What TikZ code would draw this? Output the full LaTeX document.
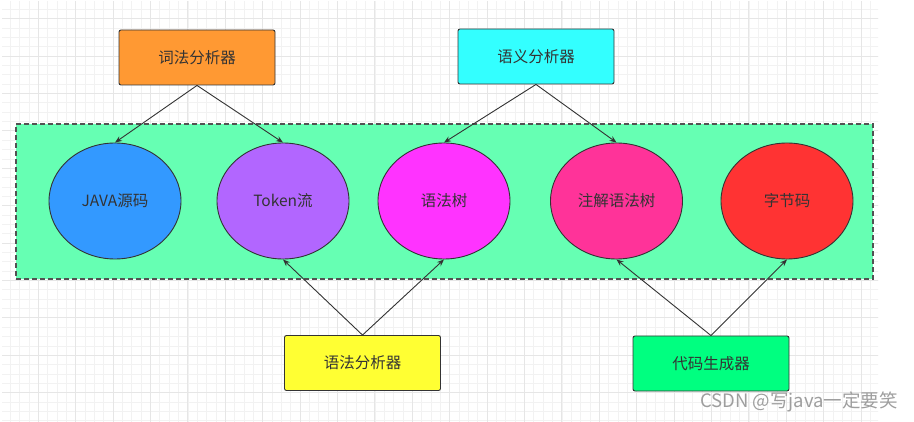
\documentclass[tikz,border=0pt]{standalone}
\usepackage{fontspec}
\setmainfont{Noto Sans CJK SC}
\usetikzlibrary{arrows.meta,shapes.geometric}
\definecolor{cOrange}{HTML}{FF9933}
\definecolor{cCyan}{HTML}{33FFFF}
\definecolor{cBg}{HTML}{66FFB3}
\definecolor{cBlue}{HTML}{3399FF}
\definecolor{cPurple}{HTML}{B266FF}
\definecolor{cMagenta}{HTML}{FF33FF}
\definecolor{cPink}{HTML}{FF3399}
\definecolor{cRed}{HTML}{FF3333}
\definecolor{cYellow}{HTML}{FFFF33}
\definecolor{cGreen}{HTML}{00FF80}
\definecolor{cText}{HTML}{333333}
\definecolor{cLine}{HTML}{333333}
\definecolor{gMinor}{HTML}{F2F2F2}
\definecolor{gMajor}{HTML}{E6E6E6}
\definecolor{cMark}{HTML}{9E9E9E}
\tikzset{
  gridminor/.style={draw=gMinor, line width=0.8pt},
  gridmajor/.style={draw=gMajor, line width=1pt},
  procbox/.style={draw=cLine, line width=0.9pt, rounded corners=2pt,
    minimum width=156pt, minimum height=55pt, inner sep=0pt,
    font=\fontsize{15.5}{18}\selectfont, text=cText},
  stage/.style={ellipse, draw=cLine, line width=0.9pt,
    minimum width=132pt, minimum height=116pt, inner sep=0pt,
    font=\fontsize{15.5}{18}\selectfont, text=cText},
  arr/.style={draw=cLine, line width=0.9pt, -{Stealth[length=7pt,width=5.5pt]}},
}
\begin{document}
\begin{tikzpicture}[x=1pt,y=-1pt]
\useasboundingbox (0,0) rectangle (914,422);
\fill[white] (0,0) rectangle (914,422);
\begin{scope}
\clip (2,2) rectangle (878,422);
\foreach \i in {0,...,94} {
  \pgfmathsetmacro\xx{0.9+9.35*\i}
  \draw[gridminor] (\xx,0) -- (\xx,422);
}
\foreach \i in {0,...,46} {
  \pgfmathsetmacro\yy{9.35*\i}
  \draw[gridminor] (0,\yy) -- (914,\yy);
}
\foreach \i in {0,...,24} {
  \pgfmathsetmacro\xx{0.9+37.4*\i}
  \draw[gridmajor] (\xx,0) -- (\xx,422);
}
\foreach \i in {0,...,11} {
  \pgfmathsetmacro\yy{18.7+37.4*\i}
  \draw[gridmajor] (0,\yy) -- (914,\yy);
}
\end{scope}

\node[draw=cLine!85, fill=cBg, dashed, dash pattern=on 5pt off 3pt, line width=1.2pt,
  minimum width=857pt, minimum height=155pt, inner sep=0pt] (group) at (444.5,201.5) {};

\node[stage, fill=cBlue] (java) at (115,201) {JAVA源码};
\node[stage, fill=cPurple] (token) at (283,201) {Token流};
\node[stage, fill=cMagenta] (tree) at (444,201) {语法树};
\node[stage, fill=cPink] (atree) at (616.5,201) {注解语法树};
\node[stage, fill=cRed] (byte) at (787,201) {字节码};

\node[procbox, fill=cOrange] (lex) at (197,57.5) {词法分析器};
\node[procbox, fill=cCyan] (sem) at (536,56.5) {语义分析器};
\node[procbox, fill=cYellow] (syn) at (362.5,363) {语法分析器};
\node[procbox, fill=cGreen] (gen) at (711,363.5) {代码生成器};

\draw[arr] (lex.south) -- (java.north);
\draw[arr] (lex.south) -- (token.north);
\draw[arr] (sem.south) -- (tree.north);
\draw[arr] (sem.south) -- (atree.north);
\draw[arr] (syn.north) -- (token.south);
\draw[arr] (syn.north) -- (tree.south);
\draw[arr] (gen.north) -- (atree.south);
\draw[arr] (gen.north) -- (byte.south);

\node[anchor=east, inner sep=0pt, text=cMark, font=\fontsize{18.5}{20}\selectfont] (wm) at (898,402) {CSDN @写java一定要笑};
\end{tikzpicture}
\end{document}
